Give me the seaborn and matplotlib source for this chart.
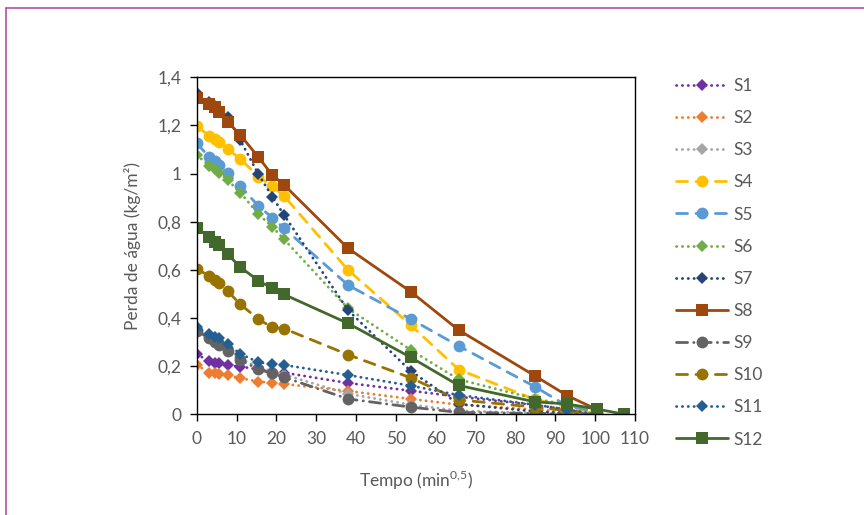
import matplotlib
matplotlib.use('Agg')
import matplotlib.pyplot as plt
from matplotlib.lines import Line2D
from matplotlib.ticker import FuncFormatter
import seaborn as sns
import pandas as pd

# tempo em min^0,5 (raiz dos minutos)
tempo = [0, 3.16, 4.47, 5.48, 7.75, 10.95, 15.49, 18.97, 21.91,
         37.95, 53.67, 65.73, 84.85, 92.95, 100.4, 107.33]

s1 = [0.25, 0.22, 0.215, 0.213, 0.205, 0.198, 0.187, 0.177, 0.173, 0.13, 0.098, 0.073, 0.039, 0.02, 0.0]
s2 = [0.205, 0.173, 0.17, 0.167, 0.163, 0.15, 0.136, 0.131, 0.126, 0.097, 0.064, 0.04, 0.02, 0.01, 0.0]
s3 = [0.35, 0.32, 0.305, 0.292, 0.27, 0.232, 0.195, 0.178, 0.165, 0.085, 0.04, 0.015, 0.005, 0.002, 0.0]
s4 = [1.198, 1.156, 1.142, 1.133, 1.102, 1.061, 0.987, 0.948, 0.907, 0.6, 0.371, 0.186, 0.062, 0.032, 0.0]
s5 = [1.126, 1.068, 1.052, 1.036, 1.001, 0.948, 0.865, 0.817, 0.773, 0.537, 0.396, 0.284, 0.115, 0.035, 0.01]
s6 = [1.077, 1.032, 1.018, 1.004, 0.973, 0.921, 0.831, 0.779, 0.727, 0.44, 0.268, 0.145, 0.065, 0.04, 0.01]
s7 = [1.336, 1.298, 1.282, 1.266, 1.235, 1.138, 0.997, 0.904, 0.828, 0.433, 0.18, 0.043, 0.012, 0.005, 0.0]
s8 = [1.315, 1.29, 1.275, 1.255, 1.216, 1.16, 1.068, 0.994, 0.953, 0.69, 0.51, 0.35, 0.16, 0.078, 0.02]
s9 = [0.347, 0.316, 0.302, 0.288, 0.265, 0.226, 0.187, 0.17, 0.154, 0.064, 0.03, 0.008, 0.004, 0.002, 0.0]
s10 = [0.604, 0.575, 0.558, 0.544, 0.512, 0.457, 0.395, 0.361, 0.356, 0.248, 0.152, 0.06, 0.03, 0.015, 0.0]
s11 = [0.364, 0.334, 0.323, 0.316, 0.292, 0.251, 0.216, 0.209, 0.205, 0.163, 0.119, 0.08, 0.04, 0.02, 0.0]
s12 = [0.773, 0.738, 0.717, 0.705, 0.665, 0.611, 0.555, 0.523, 0.498, 0.378, 0.237, 0.12, 0.052, 0.043, 0.022, 0.0]

nomes = ['S%d' % i for i in range(1, 13)]
valores = [s1, s2, s3, s4, s5, s6, s7, s8, s9, s10, s11, s12]

cores = ['#7030A0', '#ED7D31', '#A5A5A5', '#FFC000', '#5B9BD5', '#70AD47',
         '#264478', '#9E480E', '#636363', '#997300', '#255E91', '#43682B']
dot = (0, (0.1, 2.0))
dash = (0, (4, 3))
dashdot = (0, (4, 2.2, 0.1, 2.2))
estilos = [dot, dot, dot, dash, dash, dot, dot, '-', dashdot, dash, dot, '-']
marcas = ['D', 'D', 'D', 'o', 'o', 'D', 'D', 's', 'o', 'o', 'D', 's']
tam = {'D': 6.5, 'o': 8.5, 's': 8}

sns.set_style('white')
plt.rcParams['font.family'] = ['Lato', 'DejaVu Sans']
cinza = '#595959'

fig = plt.figure(figsize=(8.64, 5.15), dpi=100)
ax = fig.add_axes([0.2277, 0.1955, 0.735 - 0.2277, 0.8499 - 0.1955])

for nome, v, c, ls, m in zip(nomes, valores, cores, estilos, marcas):
    df = pd.DataFrame({'t': tempo[:len(v)], 'perda': v})
    sns.lineplot(data=df, x='t', y='perda', ax=ax, color=c, linestyle=ls,
                 marker=m, markersize=tam[m], markeredgewidth=0,
                 linewidth=2.0, dash_capstyle='round', label=nome,
                 errorbar=None, sort=False)

ax.set_xlim(0, 110)
ax.set_ylim(0, 1.4)
ax.set_xticks(range(0, 111, 10))
ax.set_yticks([0, 0.2, 0.4, 0.6, 0.8, 1.0, 1.2, 1.4])
ax.yaxis.set_major_formatter(FuncFormatter(lambda v, p: ('%g' % round(v, 1)).replace('.', ',')))
for s in ax.spines.values():
    s.set_color('black')
    s.set_linewidth(1.0)
ax.tick_params(axis='both', direction='out', length=5, width=1, color='black',
               labelcolor=cinza, labelsize=12.5, bottom=True, left=True)
ax.tick_params(axis='x', pad=7)
ax.tick_params(axis='y', pad=6)
ax.set_xlabel('Tempo (min$^{\\mathregular{0{,}5}}$)', color=cinza, fontsize=12.5, labelpad=16)
ax.set_ylabel('Perda de água (kg/m²)', color=cinza, fontsize=12.5, labelpad=12)

leg = ax.legend(loc='upper left', bbox_to_anchor=(0.764, 0.879), bbox_transform=fig.transFigure,
                frameon=False, fontsize=12.5, handlelength=3.0, handletextpad=0.3,
                labelspacing=0.93)
for t in leg.get_texts():
    t.set_color(cinza)

# moldura roxa
moldura = '#B050A8'
fig.add_artist(Line2D([5.5 / 864, 1], [1 - 7.5 / 515, 1 - 7.5 / 515], color=moldura, lw=1.2,
                      transform=fig.transFigure))
fig.add_artist(Line2D([5.5 / 864, 5.5 / 864], [0, 1 - 7.5 / 515], color=moldura, lw=1.2,
                      transform=fig.transFigure))

fig.savefig('out.png', dpi=100)
